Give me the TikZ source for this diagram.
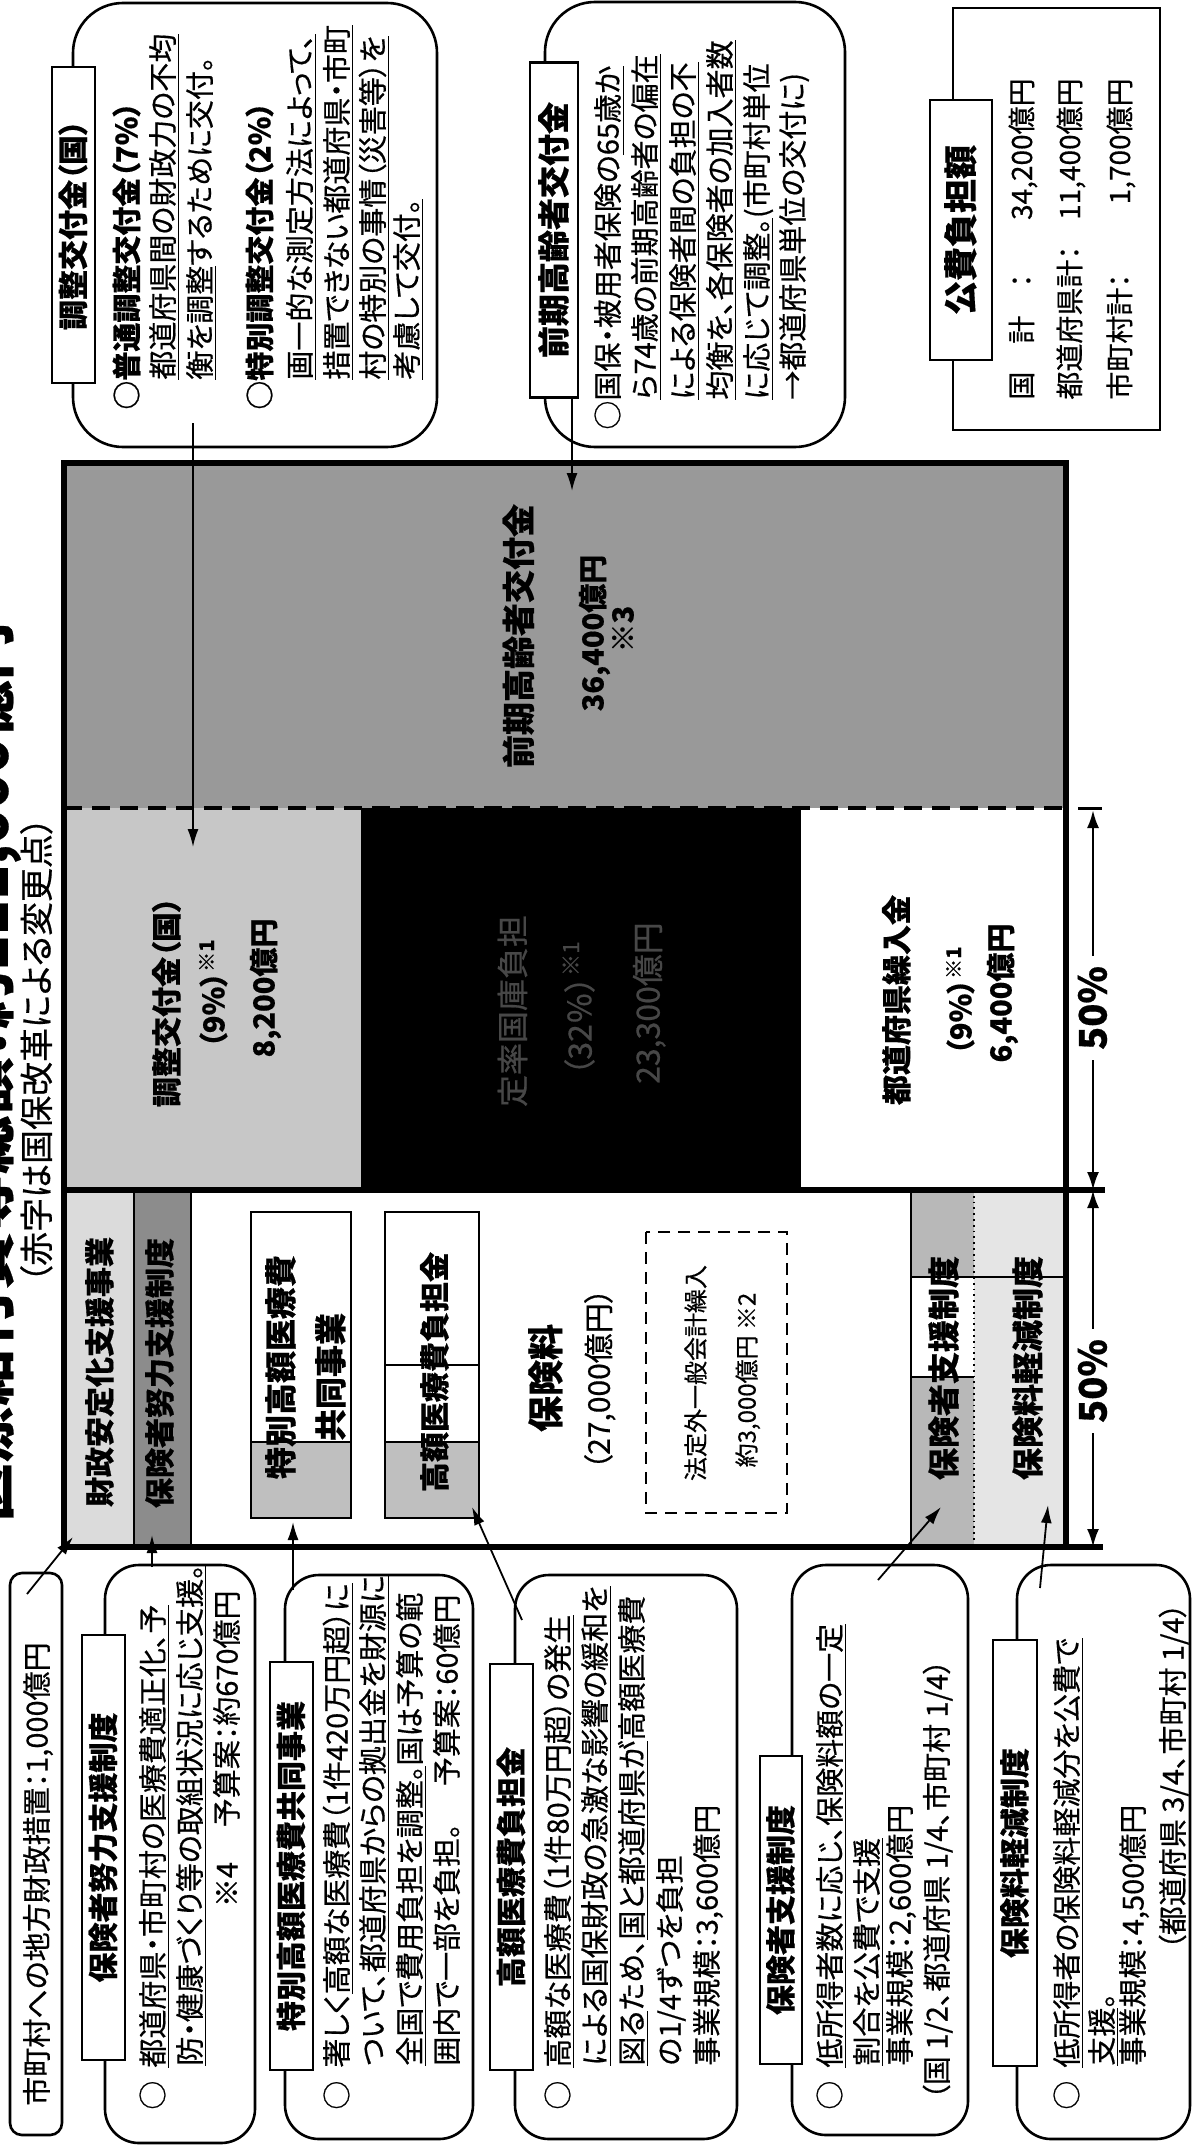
\documentclass[tikz,border=0pt]{standalone}
\usepackage{fontspec}
\setmainfont{Noto Sans CJK JP}[RawFeature=+palt, FakeBold=0.5]
\usetikzlibrary{arrows.meta}
\newsavebox\ulbox
\newcommand{\ulx}[1]{\sbox\ulbox{#1}\rlap{\rule[-2.9pt]{\wd\ulbox}{0.8pt}}\usebox\ulbox}
\tikzset{
  rot/.style={rotate=90, inner sep=0pt},
  fs/.style n args={3}{font=\fontsize{#1}{#1}\selectfont, text height=#2, text depth=#3},
  fsb/.style n args={3}{font=\fontsize{#1}{#1}\selectfont\bfseries, text height=#2, text depth=#3},
  bodyt/.style={rot, anchor=west, fs={14.5pt}{12.5pt}{2pt}},
  bodyb/.style={rot, anchor=west, fsb={14.5pt}{12.5pt}{2pt}},
  bodye/.style={rot, anchor=east, fs={14.5pt}{12.5pt}{2pt}},
  lblbox/.style={rot, draw, line width=1.2pt, fill=white, fsb={15pt}{12.9pt}{2.1pt}},
  callout/.style={draw, line width=1.3pt},
  conn/.style={line width=0.9pt, -{Latex[length=9pt,width=5.5pt]}},
  dimarrow/.style={line width=1.3pt, {Latex[length=9pt,width=6pt]}-{Latex[length=9pt,width=6pt]}},
  midb/.style={rot, anchor=center, fsb={15pt}{12.9pt}{2.1pt}},
  numb/.style={rot, anchor=center, fsb={14.5pt}{12.5pt}{2pt}},
  darkt/.style={rot, anchor=center, fs={16pt}{13.8pt}{2.2pt}, text=black!72},
  kfs/.style={rot, fs={14pt}{12pt}{2pt}},
}
\begin{document}
\begin{tikzpicture}[x=0.5pt,y=-0.5pt]
\fill[white] (0,0) rectangle (1200,2146);
\useasboundingbox (0,0) rectangle (1200,2146);

% ---------- title ----------
\node[rot, anchor=center, fsb={29pt}{24.9pt}{4.1pt}] (title) at (-13,1072) {医療給付費等総額：約111,000億円};
\node[rot, anchor=center, fs={17pt}{14.6pt}{2.4pt}] (subtitle) at (37,1050) {（赤字は国保改革による変更点）};

% ---------- callout: 調整交付金 ----------
\draw[callout, rounded corners=25pt] (73,3) rectangle (437,447);
\node[lblbox, minimum width=158pt, minimum height=21.5pt] (l1) at (73.5,225) {調整交付金（国）};
\node[bodyb] (c1a) at (127,410) {○普通調整交付金（7％）};
\node[bodyt] (c1b) at (163,380) {\ulx{都道府県間の財政力の不均}};
\node[bodyt] (c1c) at (200,380) {\ulx{衡を調整}するために交付。};
\node[bodyb] (c1d) at (260,410) {○特別調整交付金（2％）};
\node[bodyt] (c1e) at (300,380) {\ulx{画一的な測定方法によって、}};
\node[bodyt] (c1f) at (337,380) {\ulx{措置できない都道府県・市町}};
\node[bodyt] (c1g) at (373,380) {\ulx{村の特別の事情（災害等）を}};
\node[bodyt] (c1h) at (407,380) {\ulx{考慮して交付。}};

% ---------- callout: 前期高齢者交付金 ----------
\draw[callout, rounded corners=25pt] (545,2) rectangle (845,447);
\node[lblbox, minimum width=167.5pt, minimum height=24pt, fsb={16pt}{13.8pt}{2.2pt}] (l2) at (554,230) {前期高齢者交付金};
\node[bodyt] (c2a) at (608,430) {○国保・被用者保険の\ulx{65歳か}};
\node[bodyt] (c2b) at (645,400) {\ulx{ら74歳の前期高齢者の偏在}};
\node[bodyt] (c2c) at (683,400) {\ulx{による保険者間の負担の不}};
\node[bodyt] (c2d) at (720,400) {\ulx{均衡を、各保険者の加入者数}};
\node[bodyt] (c2e) at (757,400) {\ulx{に応じて調整。}(市町村単位};
\node[bodyt] (c2f) at (793,400) {→都道府県単位の交付に)};

% ---------- 公費負担額 ----------
\draw[line width=1.2pt] (953,8) rectangle (1160,430);
\node[lblbox, minimum width=130pt, minimum height=31pt, fsb={17pt}{14.6pt}{2.4pt}] (l3) at (961,230) {公費負担額};
\node[kfs, anchor=west] (k1a) at (1022,400) {国　計　：};
\node[kfs, anchor=east] (k1b) at (1022,78) {34,200億円};
\node[kfs, anchor=west] (k2a) at (1070,400) {都道府県計：};
\node[kfs, anchor=east] (k2b) at (1070,78) {11,400億円};
\node[kfs, anchor=west] (k3a) at (1120,400) {市町村計：};
\node[kfs, anchor=east] (k3b) at (1120,78) {1,700億円};

% ---------- main box fills ----------
\fill[black!40] (64,463) rectangle (1066,808);
\fill[black!22] (64,808) rectangle (361,1190);
\fill[black] (361,808) rectangle (801,1187);
\fill[black!14] (64,1190) rectangle (134,1547);
\fill[black!45] (134,1190) rectangle (191,1547);
\fill[black!28] (911,1190) rectangle (974,1277);
\fill[black!28] (911,1377) rectangle (974,1547);
\fill[black!10] (974,1190) rectangle (1066,1547);
\fill[black!25] (251,1442) rectangle (351,1518);
\fill[black!25] (385,1442) rectangle (479,1518);

% inner lines
\draw[line width=0.8pt] (134,1190) -- (134,1547);
\draw[line width=0.8pt] (191,1190) -- (191,1547);
\draw[line width=0.8pt] (911,1190) -- (911,1547);
\draw[line width=0.9pt, dotted] (974,1190) -- (974,1547);
\draw[line width=0.8pt] (911,1277) -- (1066,1277);
\draw[line width=0.8pt] (911,1377) -- (974,1377);
\draw[line width=1pt] (251,1212) rectangle (351,1518);
\draw[line width=1pt] (251,1442) -- (351,1442);
\draw[line width=1pt] (385,1212) rectangle (479,1518);
\draw[line width=1pt] (385,1365) -- (479,1365);
\draw[line width=1pt] (385,1442) -- (479,1442);
\draw[line width=0.9pt, dash pattern=on 6pt off 4pt] (646,1232) rectangle (787,1513);

% borders
\draw[line width=1.6pt, dash pattern=on 9pt off 5pt] (64,808) -- (1066,808);
\draw[line width=3pt] (64,463) rectangle (1066,1547);
\draw[line width=3pt] (64,1190) -- (1105,1190);
\draw[line width=3pt] (1066,1547) -- (1103,1547);
\draw[line width=1.5pt] (1078,808) -- (1102,808);

% ---------- main box texts ----------
\node[rot, anchor=center, fsb={16.5pt}{14.2pt}{2.3pt}] (zk) at (519,636) {前期高齢者交付金};
\node[numb] (zk2) at (593,633) {36,400億円};
\node[numb] (zk3) at (623,629) {※3};
\node[midb] (cho) at (167,1002) {調整交付金（国）};
\node[numb] (cho2) at (214,993) {（9％）\textsuperscript{※1}};
\node[numb] (cho3) at (264,988) {8,200億円};
\node[darkt] (tei) at (513,1011) {定率国庫負担};
\node[darkt] (tei2) at (580,1008) {（32％）\textsuperscript{※1}};
\node[darkt] (tei3) at (648,1003) {23,300億円};
\node[midb] (tkr) at (897,1000) {都道府県繰入金};
\node[numb] (tkr2) at (961,1000) {（9％）\textsuperscript{※1}};
\node[numb] (tkr3) at (1001,993) {6,400億円};
\node[midb] (zai) at (100,1372) {財政安定化支援事業};
\node[midb] (dor) at (160,1373) {保険者努力支援制度};
\node[rot, anchor=center, fsb={16pt}{13.8pt}{2.2pt}] (tok1) at (281,1367) {特別高額医療費};
\node[rot, anchor=center, fsb={16pt}{13.8pt}{2.2pt}] (tok2) at (331,1377) {共同事業};
\node[midb] (kog) at (435,1372) {高額医療費負担金};
\node[rot, anchor=center, fsb={18pt}{15.5pt}{2.5pt}] (hok) at (546,1378) {保険料};
\node[rot, anchor=center, fs={15pt}{12.9pt}{2.1pt}] (hok2) at (599,1379) {（27,000億円）};
\node[rot, anchor=center, fs={12pt}{10.3pt}{1.7pt}] (hot1) at (696,1373) {法定外一般会計繰入};
\node[rot, anchor=center, fs={12pt}{10.3pt}{1.7pt}] (hot2) at (747,1380) {約3,000億円 ※2};
\node[rot, anchor=center, fsb={16pt}{13.8pt}{2.2pt}] (shi) at (944,1368) {保険者支援制度};
\node[rot, anchor=center, fsb={16pt}{13.8pt}{2.2pt}] (kei) at (1028,1368) {保険料軽減制度};

% ---------- 50% dimensions ----------
\coordinate (dtop) at (1093,810);
\coordinate (dmid) at (1093,1190);
\coordinate (dbot) at (1093,1547);
\draw[dimarrow] (dtop) -- (dmid);
\draw[dimarrow] (dmid) -- (dbot);
\node[rot, anchor=center, fill=white, inner xsep=5pt, fsb={19pt}{16.3pt}{2.7pt}] (p1) at (1093,1008) {50\%};
\node[rot, anchor=center, fill=white, inner xsep=5pt, fsb={19pt}{16.3pt}{2.7pt}] (p2) at (1093,1381) {50\%};

% ---------- bottom callouts ----------
\draw[callout, rounded corners=6pt] (10,1573) rectangle (62,2135);
\node[rot, anchor=center, fs={14.5pt}{12.5pt}{2pt}] (b0) at (37,1874) {市町村への地方財政措置：1,000億円};

\draw[callout, rounded corners=17pt] (105,1565) rectangle (255,2143);
\node[lblbox, minimum width=212.5pt, minimum height=21.5pt] (l4) at (103.5,1847.5) {保険者努力支援制度};
\node[bodyt] (b1a) at (153,2110) {○\hspace{0.45em}\ulx{都道府県・市町村の医療費適正化、予}};
\node[bodyt] (b1b) at (190,2066) {\ulx{防・健康づくり等の取組状況に応じ支援。}};
\node[bodye] (b1c) at (227,1590) {※4\hspace{1.2em}予算案：約670億円};

\draw[callout, rounded corners=17pt] (285,1575) rectangle (473,2139);
\node[lblbox, minimum width=204pt, minimum height=21.5pt] (l5) at (291.5,1866) {特別高額医療費共同事業};
\node[bodyt] (b2a) at (337,2110) {○\hspace{0.45em}著しく\ulx{高額な医療費（1件420万円超）に}};
\node[bodyt] (b2b) at (373,2066) {ついて、\ulx{都道府県からの拠出金を財源に}};
\node[bodyt] (b2c) at (410,2066) {\ulx{全国で費用負担を調整。}国は予算の範};
\node[bodyt] (b2d) at (447,2066) {囲内で一部を負担。};
\node[bodye] (b2e) at (447,1594) {予算案：60億円};

\draw[callout, rounded corners=17pt] (515,1575) rectangle (737,2139);
\node[lblbox, minimum width=203pt, minimum height=21.5pt] (l6) at (511.5,1867) {高額医療費負担金};
\node[bodyt] (b3a) at (558,2110) {○\hspace{0.45em}\ulx{高額な医療費（1件80万円超）の発生}};
\node[bodyt] (b3b) at (595,2066) {\ulx{による国保財政の急激な影響の緩和を}};
\node[bodyt] (b3c) at (632,2066) {\ulx{図る}ため、\ulx{国と都道府県が}高額医療費};
\node[bodyt] (b3d) at (670,2066) {の1/4ずつを負担};
\node[bodyt] (b3e) at (707,2066) {事業規模：3,600億円};

\draw[callout, rounded corners=17pt] (792,1565) rectangle (968,2135);
\node[lblbox, minimum width=154pt, minimum height=21pt] (l7) at (781,1910) {保険者支援制度};
\node[bodyt] (b4a) at (830,2110) {○\hspace{0.45em}\ulx{低所得者数に応じ、保険料額の一定}};
\node[bodyt] (b4b) at (867,2066) {\ulx{割合を公費で支援}};
\node[bodyt] (b4c) at (900,2066) {事業規模：2,600億円};
\node[bodyt] (b4d) at (937,2100) {（国 1/2、都道府県 1/4、市町村 1/4）};

\draw[callout, rounded corners=17pt] (1017,1565) rectangle (1190,2139);
\node[lblbox, minimum width=213pt, minimum height=22pt] (l8) at (1015,1853) {保険料軽減制度};
\node[bodyt] (b5a) at (1067,2110) {○\hspace{0.45em}\ulx{低所得者の保険料軽減分を公費で}};
\node[bodyt] (b5b) at (1102,2066) {\ulx{支援}。};
\node[bodyt] (b5c) at (1133,2066) {事業規模：4,500億円};
\node[bodyt] (b5d) at (1173,1950) {（都道府県 3/4、市町村 1/4）};

% ---------- connectors ----------
\coordinate (a1s) at (193,423);  \coordinate (a1e) at (193,847);
\coordinate (a2s) at (572,398);  \coordinate (a2e) at (572,491);
\coordinate (a3s) at (27,1594);  \coordinate (a3e) at (73,1537);
\coordinate (a4s) at (152,1567); \coordinate (a4e) at (152,1535);
\coordinate (a5s) at (293,1590); \coordinate (a5e) at (293,1522);
\coordinate (a6s) at (522,1620); \coordinate (a6e) at (472,1507);
\coordinate (a7s) at (878,1580); \coordinate (a7e) at (941,1507);
\coordinate (a8s) at (1040,1588); \coordinate (a8e) at (1048,1505);
\draw[conn] (a1s) -- (a1e);
\draw[conn] (a2s) -- (a2e);
\draw[conn] (a3s) -- (a3e);
\draw[conn] (a4s) -- (a4e);
\draw[conn] (a5s) -- (a5e);
\draw[conn] (a6s) -- (a6e);
\draw[conn] (a7s) -- (a7e);
\draw[conn] (a8s) -- (a8e);
\end{tikzpicture}
\end{document}
